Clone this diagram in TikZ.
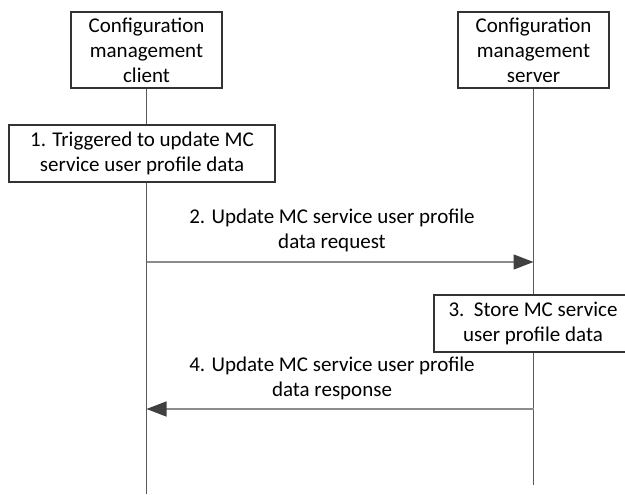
\documentclass[tikz,border=0pt]{standalone}
\usepackage{fontspec}
\setmainfont{Carlito}
\usepackage{tikz}
\usetikzlibrary{arrows.meta}

\begin{document}
\begin{tikzpicture}[x=1pt,y=1pt,yscale=-1,xscale=1,
    every node/.style={font=\fontsize{21}{25}\selectfont, align=center, inner sep=0pt},
    entity/.style={draw=black!80, line width=1.2pt, fill=white, minimum width=151pt, minimum height=76pt},
    stepbox/.style={draw=black!80, line width=1.2pt, fill=white, minimum height=57pt},
    lifeline/.style={draw=black!65, line width=1.3pt},
    msg/.style={draw=black!45, line width=1.5pt, -{Triangle[length=20pt,width=15pt,color=black!75]}}]
      \useasboundingbox (0,0) rectangle (625,495);
      % entities
      \node (client) at (146.5,50) [entity] {Configuration\\management\\client};
      \node (server) at (533.5,50) [entity] {Configuration\\management\\server};
      % steps
      \node (trigger) at (142,153.5) [stepbox, minimum width=266pt] {1. Triggered to update MC\\service user profile data};
      \node (store) at (533,323.5) [stepbox, minimum width=198pt] {3.\ \ Store MC service\\user profile data};
      \coordinate (clientend) at (146.5,494);
      \coordinate (serverend) at (533.5,485);
      % lifelines
      \draw [lifeline]   (client.south) -- (client.south |- trigger.north);
      \draw [lifeline]   (client.south |- trigger.south) -- (clientend);
      \draw [lifeline]   (server.south) -- (server.south |- store.north);
      \draw [lifeline]   (server.south |- store.south) -- (serverend);
      % messages
      \coordinate (reqfrom) at (146.5,262);
      \coordinate (reqto) at (533.5,262);
      \coordinate (respfrom) at (533.5,409);
      \coordinate (respto) at (146.5,409);
      \draw [msg]    (reqfrom) -- (reqto);
      \draw [msg]    (respfrom) -- (respto);
      \node (reqlabel) at (332,230) {2. Update MC service user profile\\data request};
      \node (resplabel) at (332,378.5) {4. Update MC service user profile\\data response};
    \end{tikzpicture}
\end{document}
